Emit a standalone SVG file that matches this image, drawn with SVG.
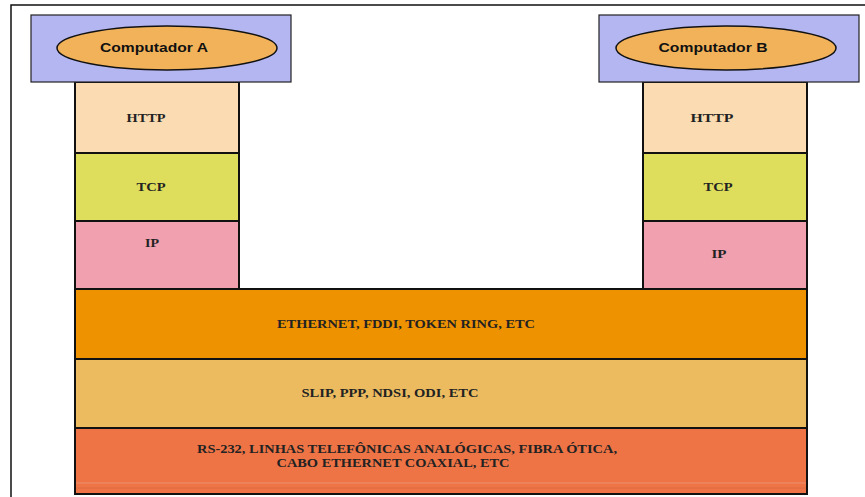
<svg xmlns="http://www.w3.org/2000/svg" width="865" height="497" viewBox="0 0 865 497">
  <style>
    .frame { fill: none; stroke: #111; stroke-width: 1.5; }
    .host { fill: #b4b6f2; stroke: #222; stroke-width: 1.2; }
    .oval { fill: #f2b25a; stroke: #111; stroke-width: 1.5; }
    .layer { stroke: #111; stroke-width: 2; }
    .http { fill: #fbdcb2; }
    .tcp { fill: #dedd5c; }
    .ip { fill: #f0a0ae; }
    .eth { fill: #ef9200; }
    .slip { fill: #ecbb60; }
    .phys { fill: #ee7446; }
    .lbl { font-family: "Liberation Serif", "Times New Roman", serif; font-weight: bold; font-size: 12.5px; fill: #222; text-anchor: middle; }
    .host-lbl { font-family: "Liberation Sans", Arial, sans-serif; font-weight: bold; font-size: 12px; fill: #111; text-anchor: middle; }
  </style>

  <rect width="865" height="497" fill="#ffffff"/>
  <!-- page frame -->
  <path class="frame" d="M11,497 V5 H865"/>

  <!-- shared lower layers -->
  <g id="ethernet">
    <rect class="layer eth" x="75" y="289" width="732" height="70"/>
    <text class="lbl" x="406" y="328" textLength="258" lengthAdjust="spacingAndGlyphs">ETHERNET, FDDI, TOKEN RING, ETC</text>
  </g>
  <g id="slip">
    <rect class="layer slip" x="75" y="359" width="732" height="69"/>
    <text class="lbl" x="390" y="397" textLength="177" lengthAdjust="spacingAndGlyphs">SLIP, PPP, NDSI, ODI, ETC</text>
  </g>
  <g id="physical">
    <rect class="layer phys" x="75" y="428" width="732" height="66"/>
    <line x1="76" y1="483" x2="806" y2="483" stroke="#e8987a" stroke-width="0.8"/>
    <line x1="76" y1="488" x2="806" y2="488" stroke="#d86a40" stroke-width="0.8"/>
    <text class="lbl" x="407" y="453" textLength="420" lengthAdjust="spacingAndGlyphs">RS-232, LINHAS TELEFÔNICAS ANALÓGICAS, FIBRA ÓTICA,</text>
    <text class="lbl" x="393" y="467" textLength="233" lengthAdjust="spacingAndGlyphs">CABO ETHERNET COAXIAL, ETC</text>
  </g>

  <!-- host A stack -->
  <g id="ip-a">
    <rect class="layer ip" x="75" y="221" width="164" height="68"/>
    <text class="lbl" x="152" y="247" textLength="14" lengthAdjust="spacingAndGlyphs">IP</text>
  </g>
  <g id="tcp-a">
    <rect class="layer tcp" x="75" y="153" width="164" height="68"/>
    <text class="lbl" x="151" y="191" textLength="29" lengthAdjust="spacingAndGlyphs">TCP</text>
  </g>
  <g id="http-a">
    <rect class="layer http" x="75" y="82" width="164" height="71"/>
    <text class="lbl" x="146" y="122" textLength="39" lengthAdjust="spacingAndGlyphs">HTTP</text>
  </g>
  <g id="computador-a">
    <rect class="host" x="31" y="15" width="260" height="67"/>
    <ellipse class="oval" cx="167" cy="48" rx="110" ry="22"/>
    <text class="host-lbl" x="154" y="52" textLength="108" lengthAdjust="spacingAndGlyphs">Computador A</text>
  </g>

  <!-- host B stack -->
  <g id="ip-b">
    <rect class="layer ip" x="643" y="221" width="164" height="68"/>
    <text class="lbl" x="719" y="258" textLength="15" lengthAdjust="spacingAndGlyphs">IP</text>
  </g>
  <g id="tcp-b">
    <rect class="layer tcp" x="643" y="153" width="164" height="68"/>
    <text class="lbl" x="718" y="191" textLength="29" lengthAdjust="spacingAndGlyphs">TCP</text>
  </g>
  <g id="http-b">
    <rect class="layer http" x="643" y="82" width="164" height="71"/>
    <text class="lbl" x="712" y="122" textLength="43" lengthAdjust="spacingAndGlyphs">HTTP</text>
  </g>
  <g id="computador-b">
    <rect class="host" x="599" y="15" width="260" height="67"/>
    <ellipse class="oval" cx="726" cy="48" rx="110" ry="22"/>
    <text class="host-lbl" x="713" y="52" textLength="109" lengthAdjust="spacingAndGlyphs">Computador B</text>
  </g>

  <g id="connectors"/>
</svg>
